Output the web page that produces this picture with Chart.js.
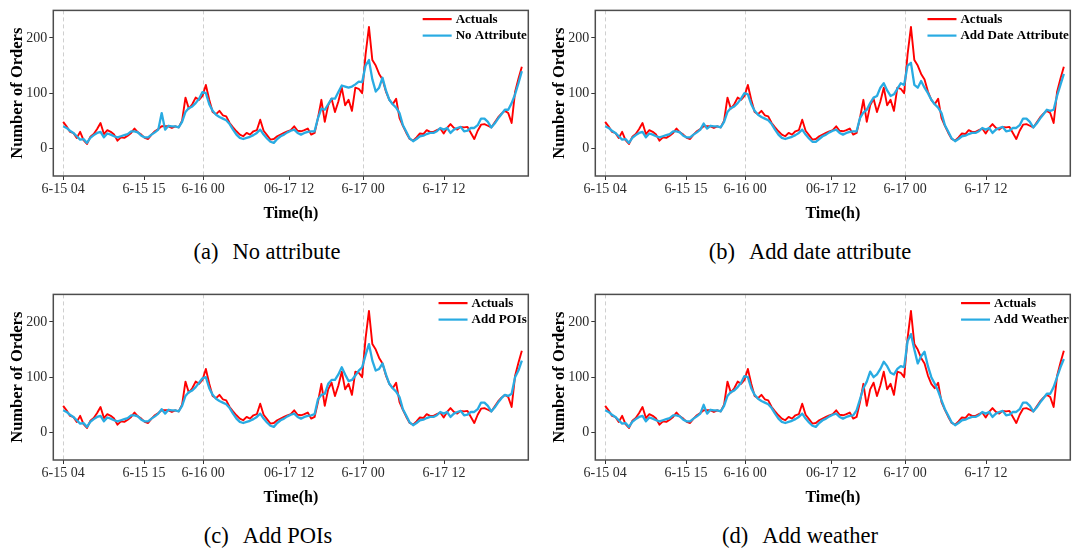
<!DOCTYPE html>
<html>
<head>
<meta charset="utf-8">
<script src="https://cdn.jsdelivr.net/npm/chart.js@4"></script>
<style>
  html, body { margin: 0; padding: 0; background: #fff; }
  body { width: 1075px; height: 551px; position: relative; overflow: hidden;
         font-family: "Liberation Serif", "DejaVu Serif", serif; }
  canvas { position: absolute; display: block; }
  .cap { position: absolute; font-size: 22.5px; line-height: 24px; color: #000;
         white-space: pre; transform: translateX(-50%); }
  .cap .tag { margin-right: 14px; }
</style>
</head>
<body>
<canvas id="pa" width="540" height="230" style="left:0;top:0"></canvas>
<canvas id="pb" width="533" height="230" style="left:542px;top:0"></canvas>
<canvas id="pc" width="540" height="230" style="left:0;top:284px"></canvas>
<canvas id="pd" width="533" height="230" style="left:542px;top:284px"></canvas>
<div class="cap" style="left:267px;top:240px"><span class="tag">(a)</span>No attribute</div>
<div class="cap" style="left:810px;top:240px"><span class="tag">(b)</span>Add date attribute</div>
<div class="cap" style="left:268px;top:524px"><span class="tag">(c)</span>Add POIs</div>
<div class="cap" style="left:800px;top:524px"><span class="tag">(d)</span>Add weather</div>
<script>
// Half-hourly order counts, sample 0 = 6-15 04:00
const actuals = [
  48, 40, 30, 28, 19, 30, 15, 8, 21, 26,
  35, 46, 26, 33, 30, 25, 14, 20, 19, 23,
  28, 36, 29, 25, 19, 17, 25, 31, 35, 40,
  40, 40, 37, 40, 38, 50, 92, 72, 80, 92,
  88, 95, 115, 88, 66, 62, 68, 60, 58, 46,
  38, 31, 25, 22, 28, 25, 31, 33, 52, 32,
  24, 16, 17, 22, 25, 28, 31, 33, 40, 32,
  31, 33, 36, 25, 28, 55, 88, 48, 78, 90,
  66, 85, 110, 78, 88, 68, 110, 108, 100, 170,
  220, 160, 150, 135, 125, 103, 88, 80, 90, 55,
  41, 28, 17, 14, 20, 27, 26, 33, 30, 30,
  33, 36, 27, 37, 44, 37, 34, 39, 38, 39,
  28, 17, 32, 43, 44, 41, 38, 47, 56, 63,
  68, 64, 46, 102, 126, 148
];
const predNoAttribute = [
  40, 37, 32, 28, 22, 16, 17, 10, 19, 24,
  28, 30, 20, 27, 25, 22, 20, 22, 24, 26,
  31, 31, 29, 23, 20, 20, 25, 29, 34, 64,
  34, 41, 40, 40, 38, 48, 66, 73, 76, 82,
  90, 102, 100, 80, 68, 61, 57, 54, 51, 44,
  34, 25, 19, 17, 19, 21, 24, 28, 34, 25,
  18, 12, 10, 17, 22, 25, 29, 32, 34, 28,
  25, 28, 30, 31, 31, 55, 72, 70, 80, 90,
  90, 102, 114, 112, 110, 112, 116, 121, 120, 150,
  160, 125, 103, 110, 128, 105, 88, 80, 74, 64,
  42, 30, 18, 13, 17, 22, 23, 26, 28, 28,
  31, 37, 34, 37, 28, 34, 37, 39, 31, 32,
  37, 37, 42, 54, 54, 48, 38, 45, 54, 62,
  70, 70, 82, 98, 118, 140
];
const predDate = [
  40, 37, 32, 28, 22, 16, 17, 10, 19, 24,
  28, 30, 20, 27, 25, 22, 20, 22, 24, 26,
  31, 31, 29, 23, 20, 20, 25, 29, 34, 45,
  36, 41, 40, 40, 38, 48, 66, 73, 76, 82,
  90, 100, 98, 80, 68, 61, 57, 54, 51, 44,
  34, 25, 19, 17, 19, 21, 24, 28, 34, 25,
  18, 12, 12, 17, 22, 25, 29, 32, 34, 28,
  25, 28, 30, 31, 31, 55, 65, 70, 82, 92,
  95, 110, 118, 105, 95, 98, 108, 118, 115, 150,
  155, 115, 110, 122, 110, 100, 88, 80, 74, 64,
  42, 30, 18, 13, 17, 22, 23, 26, 28, 28,
  31, 37, 34, 37, 28, 34, 37, 39, 31, 32,
  37, 37, 42, 54, 54, 48, 38, 45, 54, 62,
  70, 68, 70, 95, 115, 135
];
const predPOIs = [
  40, 37, 32, 28, 22, 16, 17, 10, 19, 24,
  28, 30, 20, 27, 25, 22, 20, 22, 24, 26,
  31, 31, 29, 23, 20, 20, 25, 29, 34, 42,
  34, 41, 40, 40, 38, 48, 66, 73, 76, 82,
  90, 98, 100, 80, 68, 61, 57, 54, 51, 44,
  34, 25, 19, 17, 19, 21, 24, 28, 34, 25,
  18, 12, 10, 17, 22, 25, 29, 32, 34, 28,
  25, 28, 30, 31, 33, 60, 68, 70, 88, 95,
  95, 105, 118, 105, 93, 95, 103, 112, 118, 140,
  160, 130, 112, 115, 125, 105, 88, 80, 74, 64,
  42, 30, 18, 13, 17, 22, 23, 26, 28, 28,
  31, 37, 34, 37, 28, 34, 37, 39, 31, 32,
  37, 37, 42, 54, 54, 48, 38, 45, 54, 62,
  68, 66, 70, 100, 112, 130
];
const predWeather = [
  40, 37, 32, 28, 22, 16, 17, 10, 19, 24,
  28, 30, 20, 27, 25, 22, 20, 22, 24, 26,
  31, 31, 29, 23, 20, 20, 25, 29, 34, 50,
  34, 41, 40, 40, 38, 48, 66, 73, 76, 82,
  90, 102, 100, 80, 68, 61, 57, 54, 51, 44,
  34, 25, 19, 17, 19, 21, 24, 28, 34, 25,
  18, 12, 10, 17, 22, 25, 29, 32, 34, 28,
  25, 28, 30, 31, 40, 60, 80, 92, 110, 100,
  105, 115, 128, 120, 108, 105, 115, 120, 118, 165,
  178, 150, 125, 138, 146, 120, 100, 88, 75, 58,
  42, 30, 18, 13, 17, 22, 23, 26, 28, 28,
  31, 37, 34, 37, 28, 34, 37, 39, 31, 32,
  37, 37, 42, 54, 54, 48, 38, 45, 54, 62,
  70, 70, 82, 100, 118, 133
];
// x-axis labels and their positions (in half-hour samples)
const tickLabels = ['6-15 04', '6-15 15', '6-16 00', '06-17 12', '6-17 00', '6-17 12'];
const tickPositions = [0, 23.8, 41.2, 66.5, 88.3, 112.1];
const dashedTicks = [0, 2, 4];
const yTicks = [0, 100, 200];

const SERIF = '"Liberation Serif", "DejaVu Serif", serif';
const RED = 'rgb(255,0,0)';
const BLUE = 'rgb(41,171,226)';

// legend drawn inside the top-right corner of the plot frame
const insideLegend = {
  id: 'insideLegend',
  afterDraw(chart) {
    const { ctx, chartArea } = chart;
    ctx.save();
    ctx.font = 'bold 13px ' + SERIF;
    const sets = chart.data.datasets;
    const widest = Math.max(...sets.map(d => ctx.measureText(d.label).width));
    const textX = chartArea.right - 1.5 - widest;
    sets.forEach((d, k) => {
      const y = chartArea.top + 8.7 + k * 16.5;
      ctx.strokeStyle = d.borderColor;
      ctx.lineWidth = 2.2;
      ctx.beginPath();
      ctx.moveTo(textX - 33, y);
      ctx.lineTo(textX - 4, y);
      ctx.stroke();
      ctx.fillStyle = '#000';
      ctx.textBaseline = 'middle';
      ctx.textAlign = 'left';
      ctx.fillText(d.label, textX, y + 0.5);
    });
    ctx.restore();
  }
};

// grey frame around the plotting area
const plotFrame = {
  id: 'plotFrame',
  afterDraw(chart) {
    const { ctx, chartArea: a } = chart;
    ctx.save();
    ctx.strokeStyle = '#4d4d4d';
    ctx.lineWidth = 1.5;
    ctx.strokeRect(a.left, a.top, a.right - a.left, a.bottom - a.top);
    ctx.restore();
  }
};

function toPoints(vals) {
  return vals.map((v, i) => ({ x: i, y: v }));
}

function drawPanel(id, predLabel, predVals) {
  const canvas = document.getElementById(id);
  const w = canvas.width;
  new Chart(canvas, {
    type: 'line',
    data: {
      datasets: [
        { label: 'Actuals', data: toPoints(actuals), borderColor: RED, borderWidth: 1.9, order: 1 },
        { label: predLabel, data: toPoints(predVals), borderColor: BLUE, borderWidth: 2.3, order: 0 }
      ]
    },
    options: {
      responsive: false,
      animation: false,
      devicePixelRatio: 1,
      parsing: false,
      elements: { point: { radius: 0 }, line: { tension: 0, borderJoinStyle: 'round' } },
      layout: { padding: { left: 8, top: 9.3, right: w - 528.3, bottom: 7 } },
      plugins: { legend: { display: false }, tooltip: { enabled: false } },
      scales: {
        x: {
          type: 'linear', min: -2.9, max: 136.9,
          afterBuildTicks: s => { s.ticks = tickPositions.map(v => ({ value: v })); },
          afterFit: s => { s.height = 47; },
          ticks: {
            autoSkip: false, maxRotation: 0, minRotation: 0, padding: 1,
            color: '#2b2b2b', font: { family: SERIF, size: 14 },
            callback: (v, i) => tickLabels[i]
          },
          grid: {
            color: c => dashedTicks.includes(c.index) ? '#cfcfcf' : 'rgba(0,0,0,0)',
            lineWidth: 1, drawTicks: true, tickLength: 4,
            tickColor: '#333', tickWidth: 1, tickBorderDash: []
          },
          border: { display: false, dash: [4, 3] },
          title: { display: true, text: 'Time(h)', color: '#000', padding: 0,
                   font: { family: SERIF, size: 16, weight: 'bold' } }
        },
        y: {
          min: -50, max: 250,
          afterBuildTicks: s => { s.ticks = yTicks.map(v => ({ value: v })); },
          afterFit: s => { s.width = 45.3; },
          ticks: { padding: 2, color: '#2b2b2b', font: { family: SERIF, size: 14 } },
          grid: { drawOnChartArea: false, drawTicks: true, tickLength: 4,
                  tickColor: '#333', color: '#333' },
          border: { display: false },
          title: { display: true, text: 'Number of Orders', color: '#000', padding: 0,
                   font: { family: SERIF, size: 16.5, weight: 'bold' } }
        }
      }
    },
    plugins: [plotFrame, insideLegend]
  });
}

drawPanel('pa', 'No Attribute', predNoAttribute);
drawPanel('pb', 'Add Date Attribute', predDate);
drawPanel('pc', 'Add POIs', predPOIs);
drawPanel('pd', 'Add Weather', predWeather);
</script>
</body>
</html>
